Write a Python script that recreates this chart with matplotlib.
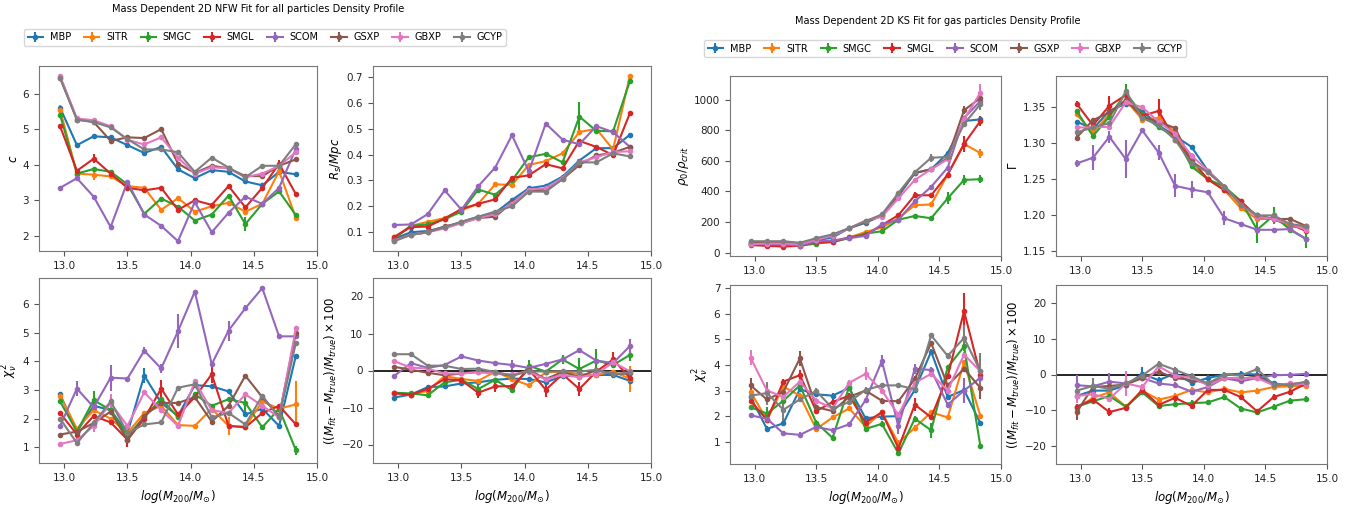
import numpy as np
import matplotlib
matplotlib.use("Agg")
import matplotlib.pyplot as plt

W, H = 1367, 505

logm = [12.967, 13.1, 13.233, 13.367, 13.5, 13.633, 13.767, 13.9,
        14.033, 14.167, 14.3, 14.433, 14.567, 14.7, 14.833]
names = ["MBP", "SITR", "SMGC", "SMGL", "SCOM", "GSXP", "GBXP", "GCYP"]
colors = ["tab:blue", "tab:orange", "tab:green", "tab:red",
          "tab:purple", "tab:brown", "tab:pink", "tab:gray"]

# ---- NFW fit, all particles ----
nfw_c = {
    "MBP":  [5.6, 4.55, 4.8, 4.77, 4.55, 4.33, 4.5, 3.87, 3.62, 3.85, 3.8, 3.53, 3.42, 3.8, 3.73],
    "SITR": [5.55, 3.75, 3.72, 3.67, 3.4, 3.35, 2.73, 3.06, 2.68, 2.83, 2.93, 2.68, 2.9, 3.82, 2.5],
    "SMGC": [5.4, 3.75, 3.88, 3.8, 3.45, 2.62, 3.05, 2.82, 2.43, 2.6, 3.13, 2.33, 2.9, 3.25, 2.58],
    "SMGL": [5.08, 3.83, 4.17, 3.75, 3.35, 3.28, 3.35, 2.73, 3.0, 2.87, 3.4, 2.8, 3.35, 4.03, 3.17],
    "SCOM": [3.35, 3.62, 3.1, 2.25, 3.52, 2.6, 2.28, 1.85, 2.95, 2.1, 2.65, 3.1, 2.9, 3.35, 4.45],
    "GSXP": [6.45, 5.27, 5.2, 4.67, 4.77, 4.75, 5.0, 4.03, 3.77, 3.97, 3.9, 3.68, 3.68, 3.97, 4.15],
    "GBXP": [6.5, 5.3, 5.25, 5.08, 4.7, 4.57, 4.77, 4.2, 3.75, 3.93, 3.9, 3.65, 3.75, 3.97, 4.35],
    "GCYP": [6.43, 5.27, 5.2, 5.05, 4.72, 4.43, 4.43, 4.35, 3.8, 4.2, 3.92, 3.65, 3.97, 3.97, 4.58],
}
nfw_rs = {
    "MBP":  [0.075, 0.1, 0.105, 0.12, 0.14, 0.16, 0.175, 0.225, 0.27, 0.28, 0.315, 0.377, 0.425, 0.425, 0.477],
    "SITR": [0.08, 0.125, 0.14, 0.155, 0.185, 0.21, 0.285, 0.283, 0.36, 0.375, 0.405, 0.487, 0.5, 0.42, 0.705],
    "SMGC": [0.075, 0.125, 0.13, 0.15, 0.18, 0.265, 0.245, 0.3, 0.39, 0.403, 0.37, 0.547, 0.492, 0.49, 0.685],
    "SMGL": [0.082, 0.12, 0.122, 0.153, 0.19, 0.21, 0.227, 0.31, 0.32, 0.363, 0.347, 0.453, 0.43, 0.398, 0.56],
    "SCOM": [0.128, 0.13, 0.17, 0.262, 0.187, 0.278, 0.35, 0.475, 0.335, 0.52, 0.458, 0.44, 0.51, 0.487, 0.43],
    "GSXP": [0.07, 0.09, 0.1, 0.123, 0.135, 0.155, 0.16, 0.215, 0.26, 0.265, 0.305, 0.36, 0.397, 0.407, 0.43],
    "GBXP": [0.068, 0.09, 0.1, 0.115, 0.135, 0.155, 0.17, 0.21, 0.265, 0.27, 0.31, 0.37, 0.39, 0.41, 0.413],
    "GCYP": [0.065, 0.09, 0.1, 0.12, 0.14, 0.16, 0.18, 0.2, 0.257, 0.257, 0.305, 0.37, 0.37, 0.405, 0.393],
}
nfw_chi = {
    "MBP":  [2.85, 1.55, 2.45, 2.3, 1.5, 3.5, 2.55, 2.1, 3.17, 3.13, 2.95, 2.15, 2.35, 1.75, 4.2],
    "SITR": [2.8, 1.65, 2.3, 2.0, 1.5, 2.2, 2.45, 1.78, 1.75, 2.35, 1.75, 1.72, 2.6, 2.35, 2.5],
    "SMGC": [2.6, 1.55, 2.65, 2.3, 1.4, 2.05, 2.7, 2.05, 2.85, 2.45, 2.68, 2.55, 1.7, 2.35, 0.9],
    "SMGL": [2.2, 1.45, 2.1, 1.87, 1.27, 2.0, 3.05, 2.15, 2.75, 3.55, 1.75, 1.7, 2.2, 2.45, 1.8],
    "SCOM": [1.75, 3.05, 2.4, 3.43, 3.4, 4.37, 3.75, 5.05, 6.43, 3.9, 5.07, 5.85, 6.55, 4.87, 4.87],
    "GSXP": [1.45, 1.55, 1.85, 2.25, 1.25, 2.1, 2.55, 2.55, 2.75, 1.9, 2.45, 3.5, 2.75, 2.1, 5.0],
    "GBXP": [1.12, 1.25, 1.75, 2.55, 1.75, 2.92, 2.3, 1.75, 3.3, 2.3, 2.2, 2.85, 2.45, 2.05, 5.15],
    "GCYP": [2.0, 1.15, 1.85, 2.6, 1.5, 1.8, 1.87, 3.08, 3.2, 2.05, 2.2, 1.8, 2.8, 2.05, 4.65],
}
nfw_dm = {
    "MBP":  [-7.3, -6.5, -4.5, -4.3, -3.5, -3.2, -2.5, -2.2, -2.3, -3.2, -1.5, -1.5, -1.2, -1.2, -2.8],
    "SITR": [-6.0, -6.5, -5.5, -1.5, -2.3, -2.8, -0.3, -2.3, -4.0, -0.5, -0.3, -1.0, -1.2, -0.3, -2.2],
    "SMGC": [-6.0, -6.2, -6.7, -3.2, -2.5, -5.0, -2.5, -5.3, 1.3, -0.3, 3.0, 0.4, 2.7, 1.5, 4.2],
    "SMGL": [-6.2, -6.5, -5.0, -2.3, -2.7, -6.0, -4.3, -4.2, 0.3, -5.2, -1.0, -5.0, -0.3, 3.0, -2.0],
    "SCOM": [-1.5, 2.0, 0.7, 1.5, 3.8, 2.7, 2.0, 1.5, 0.7, 1.8, 3.0, 5.5, 2.7, 2.0, 6.6],
    "GSXP": [1.0, 0.2, -0.6, -1.3, -0.8, -0.3, -0.6, -1.5, 0.2, -2.3, -0.4, -1.7, 0.1, -1.0, -0.8],
    "GBXP": [2.5, 0.8, 0.5, -0.8, -0.8, -0.5, -0.8, -1.0, -0.3, -2.4, -1.2, -1.8, -1.0, 2.2, -0.2],
    "GCYP": [4.4, 4.4, 1.3, 1.3, 0.4, 0.5, -0.4, -1.4, -0.2, -0.3, -0.2, -0.3, 0.2, -1.0, -0.5],
}

# ---- KS fit, gas particles ----
ks_rho = {
    "MBP":  [65, 60, 60, 50, 80, 100, 160, 195, 245, 370, 520, 545, 650, 860, 870],
    "SITR": [60, 55, 50, 50, 70, 75, 100, 135, 165, 225, 310, 315, 510, 710, 650],
    "SMGC": [55, 50, 50, 45, 60, 70, 95, 125, 140, 215, 240, 225, 355, 475, 480],
    "SMGL": [50, 45, 40, 45, 70, 70, 100, 115, 180, 245, 375, 375, 510, 710, 860],
    "SCOM": [60, 55, 55, 45, 75, 80, 95, 110, 185, 215, 335, 430, 555, 880, 990],
    "GSXP": [70, 70, 70, 60, 90, 115, 160, 200, 240, 380, 520, 545, 620, 930, 1010],
    "GBXP": [55, 60, 60, 55, 85, 110, 160, 210, 235, 355, 475, 545, 610, 870, 1045],
    "GCYP": [75, 75, 75, 65, 95, 120, 160, 205, 250, 390, 525, 620, 625, 840, 970],
}
ks_gamma = {
    "MBP":  [1.33, 1.32, 1.345, 1.355, 1.345, 1.325, 1.31, 1.295, 1.262, 1.24, 1.215, 1.2, 1.195, 1.185, 1.183],
    "SITR": [1.34, 1.315, 1.34, 1.36, 1.333, 1.335, 1.315, 1.27, 1.25, 1.235, 1.21, 1.195, 1.195, 1.185, 1.185],
    "SMGC": [1.345, 1.31, 1.337, 1.37, 1.34, 1.322, 1.31, 1.268, 1.25, 1.24, 1.22, 1.18, 1.2, 1.18, 1.167],
    "SMGL": [1.355, 1.325, 1.352, 1.367, 1.338, 1.345, 1.305, 1.277, 1.25, 1.235, 1.22, 1.198, 1.195, 1.188, 1.178],
    "SCOM": [1.272, 1.28, 1.309, 1.278, 1.318, 1.287, 1.241, 1.236, 1.232, 1.196, 1.188, 1.18, 1.18, 1.181, 1.167],
    "GSXP": [1.308, 1.332, 1.343, 1.36, 1.337, 1.33, 1.321, 1.275, 1.26, 1.24, 1.215, 1.2, 1.195, 1.195, 1.185],
    "GBXP": [1.322, 1.322, 1.323, 1.357, 1.35, 1.33, 1.313, 1.283, 1.262, 1.24, 1.215, 1.198, 1.195, 1.188, 1.18],
    "GCYP": [1.315, 1.322, 1.328, 1.372, 1.335, 1.325, 1.305, 1.272, 1.26, 1.24, 1.215, 1.2, 1.2, 1.188, 1.185],
}
ks_chi = {
    "MBP":  [2.75, 1.5, 1.72, 3.05, 2.85, 2.8, 3.1, 1.92, 1.98, 2.0, 3.02, 4.52, 2.75, 3.02, 1.72],
    "SITR": [2.95, 1.85, 3.15, 2.8, 1.5, 1.95, 2.3, 1.6, 2.15, 0.95, 1.55, 2.15, 1.95, 4.1, 2.0],
    "SMGC": [2.35, 2.1, 2.6, 3.2, 1.75, 1.15, 3.15, 1.5, 1.7, 0.55, 1.9, 1.45, 3.9, 4.72, 0.82],
    "SMGL": [2.6, 1.85, 3.35, 3.6, 2.2, 2.55, 2.8, 1.75, 2.15, 0.75, 2.45, 1.95, 3.55, 6.1, 3.6],
    "SCOM": [2.03, 1.9, 1.33, 1.27, 1.58, 1.45, 1.68, 2.62, 4.15, 1.6, 3.85, 3.8, 2.45, 3.0, 3.5],
    "GSXP": [3.2, 2.65, 2.95, 4.25, 2.35, 2.2, 2.75, 3.0, 2.6, 2.58, 3.45, 4.85, 3.2, 3.85, 3.1],
    "GBXP": [4.28, 3.0, 2.75, 3.35, 2.6, 2.3, 3.3, 3.65, 3.0, 2.05, 3.3, 3.65, 3.0, 4.4, 3.75],
    "GCYP": [2.8, 2.9, 2.25, 2.65, 2.98, 2.3, 2.55, 3.02, 3.2, 3.2, 3.05, 5.15, 4.35, 5.05, 3.75],
}
ks_dm = {
    "MBP":  [-6.0, -4.5, -4.5, -3.0, 0.2, -1.6, 0.3, -2.3, -1.0, 0.0, 0.2, 0.0, -2.5, -3.0, -2.5],
    "SITR": [-9.5, -6.5, -5.0, -9.0, -4.5, -7.0, -6.0, -4.3, -5.0, -4.0, -5.0, -4.5, -3.5, -3.3, -3.2],
    "SMGC": [-9.0, -7.5, -6.0, -9.0, -5.0, -8.8, -8.3, -8.0, -7.8, -6.3, -9.5, -10.6, -9.0, -7.3, -6.9],
    "SMGL": [-9.0, -7.0, -10.5, -9.3, -4.3, -8.5, -6.5, -8.8, -4.3, -4.3, -6.3, -10.3, -6.3, -4.8, -2.5],
    "SCOM": [-3.0, -3.3, -2.0, -2.5, -1.0, -2.5, -3.0, -4.8, -3.5, -1.0, -1.9, -1.0, -0.2, -0.1, 0.2],
    "GSXP": [-10.5, -3.5, -3.2, -2.8, -1.0, 0.8, -1.0, -1.5, -2.5, -0.9, -1.2, -0.5, -3.0, -2.8, -2.2],
    "GBXP": [-6.0, -5.5, -6.8, -2.5, -3.5, 2.3, -0.3, -0.8, -3.0, -1.0, -1.0, -1.0, -3.0, -2.5, -2.7],
    "GCYP": [-4.5, -3.2, -4.0, -2.5, -0.3, 3.0, 1.3, -0.5, -2.5, 0.0, -0.3, 1.5, -2.9, -2.8, -2.0],
}

# error bars: typical size per panel, plus the visibly larger ones {series: {bin: err}}
nfw_c_err = (0.04, {"SITR": {0: 0.12, 2: 0.15, 13: 0.1}, "SMGL": {2: 0.12, 13: 0.1},
                    "SMGC": {0: 0.08, 11: 0.2}, "SCOM": {3: 0.07}})
nfw_rs_err = (0.005, {"SMGC": {11: 0.055}, "SMGL": {9: 0.015}})
nfw_chi_err = (0.06, {"SCOM": {1: 0.25, 3: 0.45, 5: 0.12, 6: 0.15, 7: 0.6, 10: 0.35, 11: 0.1},
                      "MBP": {5: 0.25}, "SITR": {14: 0.8, 10: 0.3},
                      "SMGL": {9: 0.3, 4: 0.25, 6: 0.3}, "SMGC": {2: 0.3, 11: 0.3, 14: 0.15},
                      "GBXP": {3: 0.3, 2: 0.2}})
nfw_dm_err = (0.5, {"SMGC": {12: 3.0, 8: 1.5, 10: 1.2, 5: 1.5, 14: 1.5, 11: 3.0},
                    "SMGL": {5: 1.5, 6: 1.5, 9: 2.0, 11: 2.0, 13: 2.0},
                    "SITR": {14: 3.5}, "SCOM": {14: 2.0, 7: 1.3}})
ks_rho_err = (8, {"SMGC": {12: 40, 13: 35, 14: 25}, "SMGL": {13: 55, 14: 30, 10: 20},
                  "SITR": {14: 30}, "GBXP": {14: 55}, "GCYP": {14: 40, 11: 25}, "GSXP": {13: 25}})
ks_gamma_err = (0.003, {"SCOM": {0: 0.005, 1: 0.017, 2: 0.008, 3: 0.026, 5: 0.01, 6: 0.016,
                                 7: 0.012, 9: 0.01},
                        "SMGC": {3: 0.012, 11: 0.019, 12: 0.012, 14: 0.012, 6: 0.006},
                        "SMGL": {2: 0.013, 5: 0.017}})
ks_chi_err = (0.1, {"SMGL": {13: 0.7, 10: 0.25, 3: 0.2}, "GCYP": {14: 0.7, 1: 0.45, 2: 0.45, 13: 0.5},
                    "SCOM": {13: 0.5, 8: 0.25, 10: 0.2, 9: 0.3}, "GBXP": {0: 0.3, 7: 0.25},
                    "GSXP": {3: 0.3, 14: 0.45, 0: 0.3}, "SMGC": {11: 0.3, 1: 0.25}})
ks_dm_err = (0.8, {"GSXP": {0: 2.3}, "SCOM": {0: 3.0, 2: 2.5, 3: 1.5}, "GCYP": {1: 2.2},
                   "GBXP": {3: 3.5, 0: 2.0}, "MBP": {4: 1.8}, "SMGL": {2: 1.2}})

plt.rcParams["font.size"] = 7.5
plt.rcParams["axes.edgecolor"] = "#777777"
plt.rcParams["xtick.color"] = "#555555"
plt.rcParams["ytick.color"] = "#555555"
plt.rcParams["xtick.labelcolor"] = "#222222"
plt.rcParams["ytick.labelcolor"] = "#222222"

fig = plt.figure(figsize=(W / 100, H / 100), dpi=100)


def box(x0, y0, x1, y1):
    return [x0 / W, 1 - y1 / H, (x1 - x0) / W, (y1 - y0) / H]


def panel(rect, data, err, ylabel, xlabel=False, zero=False, ylim=None):
    ax = fig.add_axes(rect)
    default, extra = err
    for n, col in zip(names, colors):
        e = [extra.get(n, {}).get(i, default) for i in range(len(logm))]
        ax.errorbar(logm, data[n], yerr=e, color=col, marker="o", ms=3,
                    lw=1.5, elinewidth=1.5, label=n)
    if zero:
        ax.axhline(0, color="black", lw=1.2, zorder=0)
    ax.set_xlim(12.8, 15.0)
    ax.set_xticks([13.0, 13.5, 14.0, 14.5, 15.0])
    if ylim:
        ax.set_ylim(*ylim)
    ax.set_ylabel(ylabel, fontsize=8.5, labelpad=2)
    if xlabel:
        ax.set_xlabel(r"$log(M_{200}/M_{\odot})$", fontsize=8.5)
    return ax


dm_label = r"$((M_{fit}-M_{true})/M_{true})\times100$"

a1 = panel(box(39, 66, 317, 251), nfw_c, nfw_c_err, r"$c$")
panel(box(373, 66, 651, 251), nfw_rs, nfw_rs_err, r"$R_s/Mpc$")
panel(box(39, 278, 317, 463), nfw_chi, nfw_chi_err, r"$\chi^2_\nu$", xlabel=True)
panel(box(373, 278, 651, 463), nfw_dm, nfw_dm_err, dm_label, xlabel=True, zero=True, ylim=(-25, 25))

panel(box(730, 76, 1001, 256), ks_rho, ks_rho_err, r"$\rho_0/\rho_{crit}$")
panel(box(1056, 76, 1327, 256), ks_gamma, ks_gamma_err, r"$\Gamma$")
panel(box(730, 285, 1001, 464), ks_chi, ks_chi_err, r"$\chi^2_\nu$", xlabel=True)
panel(box(1056, 285, 1327, 464), ks_dm, ks_dm_err, dm_label, xlabel=True, zero=True, ylim=(-25, 25))

fig.text(258 / W, 1 - 9 / H, "Mass Dependent 2D NFW Fit for all particles Density Profile",
         ha="center", va="center", fontsize=7.1)
fig.text(938 / W, 1 - 21 / H, "Mass Dependent 2D KS Fit for gas particles Density Profile",
         ha="center", va="center", fontsize=7.0)

handles, labels = a1.get_legend_handles_labels()
for cx, cy in [(265, 37.5), (945, 48.5)]:
    fig.legend(handles, labels, loc="center", bbox_to_anchor=(cx / W, 1 - cy / H),
               ncol=8, fontsize=7, handlelength=1.6, columnspacing=1.3,
               borderpad=0.35, handletextpad=0.7)

fig.savefig("out.png", dpi=100)
